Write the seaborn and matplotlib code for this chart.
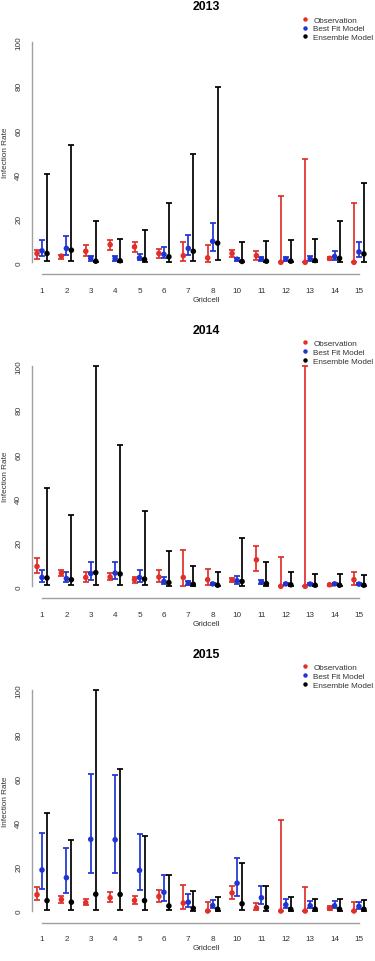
import numpy as np
import pandas as pd
import matplotlib
matplotlib.use("Agg")
import matplotlib.pyplot as plt
import seaborn as sns

gridcells = ['1', '2', '3', '4', '5', '6', '7', '8', '10', '11', '12', '13', '14', '15']
years = ['2013', '2014', '2015']
series_names = ['Observation', 'Best Fit Model', 'Ensemble Model']
series_colors = ['#E0302A', '#2035D0', '#000000']
yticks = [0, 20, 40, 60, 80, 100]

# 2013
obs13 = [4.0, 2.8, 5.0, 8.0, 7.0, 4.0, 3.0, 2.0, 4.0, 3.0, 0.0, 0.0, 1.8, 0.0]
obs13_lo = [1.5, 1.5, 3.0, 5.5, 4.5, 2.0, 0.5, 0.2, 2.5, 1.0, 0.0, 0.0, 1.0, 0.0]
obs13_hi = [5.5, 3.5, 8.0, 10.3, 9.2, 6.0, 9.4, 8.0, 5.5, 5.2, 30.0, 47.0, 2.5, 26.7]
best13 = [5.2, 6.3, 1.8, 1.7, 2.0, 3.6, 6.3, 9.5, 1.4, 1.5, 1.5, 1.6, 2.6, 4.7]
best13_lo = [3.0, 3.5, 0.8, 0.8, 1.0, 1.8, 3.3, 5.0, 0.8, 0.8, 0.7, 0.8, 1.2, 2.5]
best13_hi = [10.0, 12.0, 3.0, 2.8, 3.8, 7.0, 12.2, 18.0, 2.0, 2.5, 2.5, 2.8, 5.0, 9.0]
ens13 = [4.0, 5.5, 0.5, 0.7, 1.3, 2.5, 5.0, 8.7, 0.4, 0.5, 0.5, 0.8, 1.8, 3.8]
ens13_lo = [0.5, 0.5, 0.2, 0.2, 0.3, 0.3, 0.5, 1.0, 0.1, 0.2, 0.2, 0.2, 0.1, 0.3]
ens13_hi = [40.0, 53.0, 18.8, 10.5, 14.6, 26.8, 49.0, 79.6, 9.2, 9.8, 10.0, 10.6, 18.6, 36.0]

# 2014
obs14 = [9.0, 6.0, 4.0, 4.2, 3.0, 4.2, 4.0, 3.0, 2.8, 12.0, 0.0, 0.0, 0.7, 3.0]
obs14_lo = [6.0, 4.5, 1.8, 2.8, 1.5, 2.0, 0.3, 0.5, 1.8, 6.8, 0.0, 0.0, 0.3, 0.5]
obs14_hi = [12.7, 7.2, 6.3, 6.0, 4.2, 7.4, 16.4, 7.8, 3.6, 18.2, 13.5, 100.0, 1.1, 6.5]
best14 = [4.0, 3.5, 5.8, 6.0, 4.0, 2.2, 1.5, 1.1, 2.5, 1.8, 1.1, 1.0, 1.1, 1.0]
best14_lo = [1.8, 1.8, 3.0, 3.2, 2.0, 1.2, 0.8, 0.6, 1.2, 0.9, 0.6, 0.5, 0.6, 0.5]
best14_hi = [7.3, 6.5, 11.0, 11.1, 7.5, 4.2, 2.3, 1.5, 4.8, 2.8, 1.6, 1.4, 1.5, 1.5]
ens14 = [3.8, 3.0, 6.2, 5.6, 3.3, 1.7, 0.9, 0.5, 2.2, 1.2, 0.7, 0.5, 0.5, 0.5]
ens14_lo = [0.5, 0.5, 0.5, 0.7, 0.5, 0.3, 0.2, 0.1, 0.2, 0.3, 0.2, 0.1, 0.1, 0.1]
ens14_hi = [44.5, 32.3, 100.0, 64.2, 34.0, 16.2, 9.0, 6.3, 21.7, 11.2, 6.3, 5.5, 5.6, 5.3]

# 2015
obs15 = [7.4, 5.2, 3.8, 6.0, 4.8, 6.6, 3.6, 0.0, 8.2, 1.4, 0.0, 0.0, 1.2, 0.0]
obs15_lo = [4.8, 3.8, 2.5, 4.2, 3.2, 4.2, 0.8, 0.0, 5.5, 0.6, 0.0, 0.0, 0.6, 0.0]
obs15_hi = [10.8, 6.8, 5.5, 8.8, 6.8, 9.4, 11.9, 4.1, 11.4, 3.5, 41.3, 11.0, 2.3, 4.1]
best15 = [18.6, 15.1, 32.5, 32.3, 18.4, 8.5, 4.0, 2.5, 12.6, 6.0, 2.8, 2.4, 2.4, 2.1]
best15_lo = [9.8, 8.0, 17.2, 17.0, 9.6, 4.4, 2.0, 1.2, 6.6, 3.0, 1.4, 1.2, 1.2, 1.0]
best15_hi = [35.3, 28.6, 62.0, 61.6, 34.9, 16.3, 7.8, 4.8, 24.2, 11.3, 5.4, 4.6, 4.6, 4.3]
ens15 = [4.7, 4.0, 7.6, 7.5, 4.7, 2.3, 1.2, 0.8, 3.3, 1.6, 0.8, 0.8, 0.8, 0.8]
ens15_lo = [0.4, 0.4, 0.4, 0.6, 0.4, 0.3, 0.2, 0.1, 0.3, 0.2, 0.1, 0.1, 0.1, 0.1]
ens15_hi = [44.5, 32.3, 100.0, 64.2, 34.0, 16.2, 9.0, 6.3, 21.7, 11.3, 6.3, 5.5, 5.6, 5.2]

panels = {
    '2013': [(obs13, obs13_lo, obs13_hi), (best13, best13_lo, best13_hi), (ens13, ens13_lo, ens13_hi)],
    '2014': [(obs14, obs14_lo, obs14_hi), (best14, best14_lo, best14_hi), (ens14, ens14_lo, ens14_hi)],
    '2015': [(obs15, obs15_lo, obs15_hi), (best15, best15_lo, best15_hi), (ens15, ens15_lo, ens15_hi)],
}

sns.set_theme(style="white")
plt.rcParams['font.family'] = ['Liberation Sans', 'DejaVu Sans']

W, H = 375, 962
fig = plt.figure(figsize=(W / 100, H / 100), dpi=100)

# layout (pixels)
x0px, xstep = 42.0, 24.38
xlim = (-0.42, 13.45)
ylim = (-5.45, 104.0)
yscale = 2.206
zero_px = [263.3, 587.3, 912.0]
title_px = [7.5, 331.0, 655.0]
offsets = [-0.205, 0.0, 0.205]
base_fs = 5.9
txt_col = '#333333'
axis_col = '#A0A0A0'

for k, year in enumerate(years):
    left = x0px + xlim[0] * xstep
    right = x0px + xlim[1] * xstep
    top = zero_px[k] - ylim[1] * yscale
    bottom = zero_px[k] - ylim[0] * yscale
    ax = fig.add_axes([left / W, 1 - bottom / H, (right - left) / W, (bottom - top) / H])

    rows = []
    for s, (name, col) in enumerate(zip(series_names, series_colors)):
        mean, lo, hi = panels[year][s]
        pos = np.arange(len(gridcells)) + offsets[s]
        mean = np.asarray(mean); lo = np.asarray(lo); hi = np.asarray(hi)
        ax.errorbar(pos, mean, yerr=[mean - lo, hi - mean], fmt='none',
                    ecolor=col, elinewidth=1.25, capsize=1.9, capthick=1.25, zorder=2)
        for p, m in zip(pos, mean):
            rows.append({'x': p, 'y': m, 'Series': name})
    df = pd.DataFrame(rows)
    sns.scatterplot(data=df, x='x', y='y', hue='Series', hue_order=series_names,
                    palette=series_colors, s=16, linewidth=0, ax=ax, zorder=3, legend=True)

    ax.set_xlim(*xlim)
    ax.set_ylim(*ylim)
    ax.set_xticks(np.arange(len(gridcells)))
    ax.set_xticklabels(gridcells)
    ax.set_yticks(yticks)
    ax.set_yticklabels([str(v) for v in yticks], rotation=90, va='center')
    ax.set_xlabel('')
    ax.set_ylabel('')
    for sp in ['top', 'right']:
        ax.spines[sp].set_visible(False)
    ax.spines['left'].set_bounds(0, 100)
    ax.spines['bottom'].set_bounds(0, len(gridcells) - 1)
    for sp in ['left', 'bottom']:
        ax.spines[sp].set_color(axis_col)
        ax.spines[sp].set_linewidth(1.0)
    ax.tick_params(axis='both', direction='out', length=3.3, width=0.9, color=axis_col,
                   labelsize=base_fs, labelcolor=txt_col)
    ax.tick_params(axis='x', pad=5.5)
    ax.tick_params(axis='y', pad=3.5)
    ax.grid(False)
    ax.patch.set_alpha(0)

    sns.move_legend(ax, 'upper left',
                    bbox_to_anchor=(301.5 / W, 1 - (title_px[k] + 9.5) / H),
                    bbox_transform=fig.transFigure, frameon=False, title=None,
                    fontsize=base_fs, labelspacing=0.12, handlelength=0.9,
                    handletextpad=0.55, borderpad=0, borderaxespad=0,
                    labelcolor=txt_col, markerscale=0.8)

    cx = 206 / W
    fig.text(cx, 1 - title_px[k] / H, year, ha='center', va='center',
             fontsize=8.8, fontweight='bold', color='black')
    fig.text(cx, 1 - (zero_px[k] + 37) / H, 'Gridcell', ha='center', va='center',
             fontsize=base_fs, color=txt_col)
    fig.text(5.5 / W, 1 - (zero_px[k] - 110) / H, 'Infection Rate', ha='center', va='center',
             rotation=90, fontsize=base_fs, color=txt_col)

fig.savefig('out.png', dpi=100)
